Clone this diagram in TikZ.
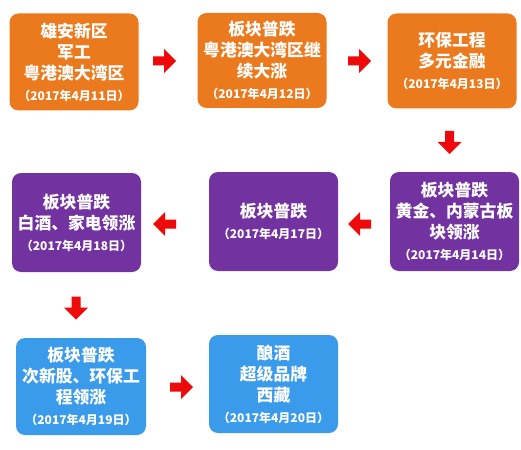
\documentclass[tikz,border=0pt]{standalone}
\usepackage{fontspec}
\newfontfamily\cjk{Noto Sans CJK SC}
\definecolor{orangebox}{HTML}{EB7A1E}
\definecolor{purplebox}{HTML}{7232A0}
\definecolor{bluebox}{HTML}{3A9BEA}
\definecolor{arrowred}{HTML}{EE0A0A}
\tikzset{
  box/.style={rounded corners=9pt, minimum width=129pt, minimum height=96pt, inner sep=2pt,
    text=white, align=center, font=\cjk\bfseries\fontsize{16.8}{21}\selectfont},
  obox/.style={box, fill=orangebox},
  pbox/.style={box, fill=purplebox},
  bbox/.style={box, fill=bluebox},
  bigarrow/.style={fill=arrowred, draw=none},
}
\newcommand{\datel}[1]{{\fontsize{12}{15.5}\selectfont （#1）}}
% block arrow: #1 centre, #2 rotation (0 right, 180 left, -90 down)
\newcommand{\blockarrow}[2]{%
  \fill[bigarrow, shift={#1}, rotate=#2]
    (-11.5,-4.5) -- (-0.5,-4.5) -- (-0.5,-12) -- (11.5,0) -- (-0.5,12) -- (-0.5,4.5) -- (-11.5,4.5) -- cycle;}
\begin{document}
\begin{tikzpicture}[x=1pt,y=-1pt]
\useasboundingbox[fill=white] (0,0) rectangle (521,449);
\node[obox, minimum height=97pt] (o1) at (74,62) {雄安新区\\军工\\粤港澳大湾区\\\datel{2017年4月11日}};
\node[obox, minimum height=95pt] (o2) at (262,60.5) {板块普跌\\粤港澳大湾区继\\续大涨\\\datel{2017年4月12日}};
\node[obox, minimum height=95pt] (o3) at (452,61) {环保工程\\多元金融\\\datel{2017年4月13日}};
\node[pbox, minimum height=99pt] (p1) at (76.5,222.5) {板块普跌\\白酒、家电领涨\\\datel{2017年4月18日}};
\node[pbox, minimum height=99pt] (p2) at (273.5,221.5) {板块普跌\\\datel{2017年4月17日}};
\node[pbox, minimum height=99pt] (p3) at (454.5,221.5) {板块普跌\\黄金、内蒙古板\\块领涨\\\datel{2017年4月14日}};
\node[bbox, minimum height=97pt, minimum width=130pt] (b1) at (81,386.5) {板块普跌\\次新股、环保工\\程领涨\\\datel{2017年4月19日}};
\node[bbox, minimum height=98pt] (b2) at (273.5,384) {酿酒\\超级品牌\\西藏\\\datel{2017年4月20日}};
% block arrows
\blockarrow{(164.5,61)}{0}
\blockarrow{(359.5,61)}{0}
\blockarrow{(449.5,142.5)}{-90}
\blockarrow{(359.5,224)}{180}
\blockarrow{(164.5,224)}{180}
\blockarrow{(76,308)}{-90}
\blockarrow{(181.5,387)}{0}
\end{tikzpicture}
\end{document}
